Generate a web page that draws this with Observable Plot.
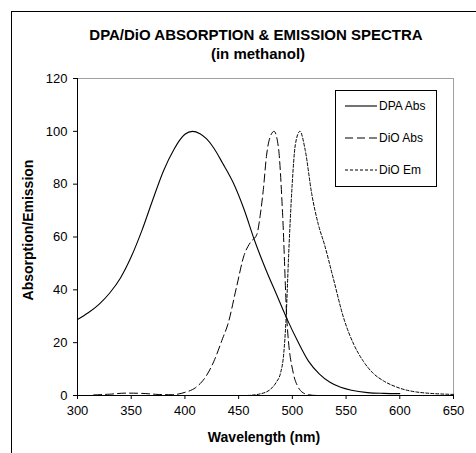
<!DOCTYPE html>
<html>
<head>
<meta charset="utf-8">
<script src="https://cdn.jsdelivr.net/npm/d3@7"></script>
<script src="https://cdn.jsdelivr.net/npm/@observablehq/plot@0.6"></script>
<style>
  html, body { margin: 0; padding: 0; background: white; }
  #chart { width: 476px; height: 453px; overflow: hidden; }
</style>
</head>
<body>
<div id="chart"></div>
<script>
// ---- Data ----
const title = "DPA/DiO ABSORPTION & EMISSION SPECTRA";
const subtitle = "(in methanol)";
const xLabel = "Wavelength (nm)";
const yLabel = "Absorption/Emission";
const xTicks = [300, 350, 400, 450, 500, 550, 600, 650];
const yTicks = [0, 20, 40, 60, 80, 100, 120];
const seriesNames = ["DPA Abs", "DiO Abs", "DiO Em"];

const dpaWavelength = [300, 310, 320, 330, 340, 350, 360, 370, 380, 390, 395, 400, 407, 414, 420, 427, 435, 445, 455, 465, 475, 485, 495, 505, 515, 525, 535, 545, 555, 570, 585, 600];
const dpaAbs        = [28.8, 31.3, 34.5, 38.8, 44.5, 52.5, 62.5, 74, 85, 93.3, 96.6, 98.9, 100, 99.1, 97.2, 93.6, 88, 80.5, 70.5, 58.5, 48, 38.5, 29, 20.5, 13, 8.2, 5, 3.1, 2, 1.1, 0.8, 0.7];

const dioAbsWavelength = [315, 330, 345, 360, 375, 388, 400, 410, 420, 427, 435, 440, 448, 455, 461, 467, 470, 473, 476, 479, 483, 487, 491, 495, 501, 505, 509, 515, 523, 600];
const dioAbs           = [0.2, 0.5, 0.9, 0.8, 0.4, 0.3, 1.2, 3, 7.5, 13, 21.5, 27, 41, 53, 58, 61, 68, 78, 91, 97.5, 100, 94, 68, 28, 8.2, 3.5, 1.3, 0.3, 0, 0];

const dioEmWavelength = [458, 470, 480, 485, 489, 492, 494, 496.6, 499.7, 502.8, 507, 512, 518, 524, 530, 538, 548, 557, 566, 575, 585, 597, 616, 650];
const dioEm           = [0, 0.6, 2.5, 5, 8.5, 16, 28, 53.7, 79, 95, 100, 92.8, 76.4, 65, 57, 44.5, 29, 19.5, 13, 8.5, 5.5, 3.2, 1.3, 0.4];

const toRows = (ws, vs) => ws.map((w, i) => ({w, v: vs[i]}));
const dpaRows = toRows(dpaWavelength, dpaAbs);
const dioAbsRows = toRows(dioAbsWavelength, dioAbs);
const dioEmRows = toRows(dioEmWavelength, dioEm);

const FONT = "'Liberation Sans', Arial, Helvetica, sans-serif";
const styles = [
  {stroke: "black", strokeWidth: 1.1, dash: null},
  {stroke: "black", strokeWidth: 1, dash: "8,4"},
  {stroke: "black", strokeWidth: 1, dash: "3,2"}
];

const W = 476, H = 453;
const chart = Plot.plot({
  width: W,
  height: H,
  marginLeft: 77,
  marginRight: 23,
  marginTop: 78,
  marginBottom: 58,
  style: {fontFamily: FONT, fontSize: "13px", color: "black", background: "white", overflow: "visible"},
  x: {domain: [300, 650]},
  y: {domain: [0, 120]},
  marks: [
    Plot.ruleY([120], {stroke: "#a0a0a0", strokeWidth: 1}),
    Plot.ruleX([650], {stroke: "#a0a0a0", strokeWidth: 1}),
    Plot.line(dpaRows, {x: "w", y: "v", stroke: styles[0].stroke, strokeWidth: styles[0].strokeWidth, curve: "monotone-x"}),
    Plot.line(dioAbsRows, {x: "w", y: "v", stroke: styles[1].stroke, strokeWidth: styles[1].strokeWidth, strokeDasharray: styles[1].dash, curve: "monotone-x"}),
    Plot.line(dioEmRows, {x: "w", y: "v", stroke: styles[2].stroke, strokeWidth: styles[2].strokeWidth, strokeDasharray: styles[2].dash, curve: "monotone-x"}),
    Plot.ruleX([300], {stroke: "black", strokeWidth: 1}),
    Plot.ruleY([0], {stroke: "black", strokeWidth: 1}),
    Plot.axisX({ticks: xTicks, tickSize: 4, tickPadding: 6, label: null, tickFormat: d => String(d)}),
    Plot.axisY({ticks: yTicks, tickSize: 4, tickPadding: 6, label: null, tickFormat: d => String(d)})
  ]
});
document.getElementById("chart").appendChild(chart);

// ---- Decorations: frame, titles, legend ----
const svg = d3.select(chart);
svg.insert("rect", ":first-child")
  .attr("x", 11.5).attr("y", 11.5).attr("width", 480).attr("height", 470)
  .attr("fill", "none").attr("stroke", "black").attr("stroke-width", 1);

svg.append("text").text(title)
  .attr("x", 256).attr("y", 40).attr("text-anchor", "middle")
  .attr("font-family", FONT).attr("font-size", 15).attr("font-weight", "bold").attr("fill", "black");
svg.append("text").text(subtitle)
  .attr("x", 258).attr("y", 59).attr("text-anchor", "middle")
  .attr("font-family", FONT).attr("font-size", 15).attr("font-weight", "bold").attr("fill", "black");
svg.append("text").text(xLabel)
  .attr("x", 264).attr("y", 442).attr("text-anchor", "middle")
  .attr("font-family", FONT).attr("font-size", 14).attr("font-weight", "bold").attr("fill", "black");
svg.append("text").text(yLabel)
  .attr("transform", "translate(33,230) rotate(-90)").attr("text-anchor", "middle")
  .attr("font-family", FONT).attr("font-size", 14).attr("font-weight", "bold").attr("fill", "black");

const lg = svg.append("g");
lg.append("rect").attr("x", 335.5).attr("y", 90.5).attr("width", 101).attr("height", 96)
  .attr("fill", "white").attr("stroke", "black").attr("stroke-width", 1);
seriesNames.forEach((name, i) => {
  const y = 106 + i * 32;
  lg.append("line").attr("x1", 345).attr("x2", 377).attr("y1", y).attr("y2", y)
    .attr("stroke", styles[i].stroke).attr("stroke-width", styles[i].strokeWidth)
    .attr("stroke-dasharray", styles[i].dash);
  lg.append("text").text(name).attr("x", 379).attr("y", y).attr("dy", "0.35em")
    .attr("text-anchor", "start")
    .attr("font-family", FONT).attr("font-size", 12).attr("fill", "black");
});
</script>
</body>
</html>
